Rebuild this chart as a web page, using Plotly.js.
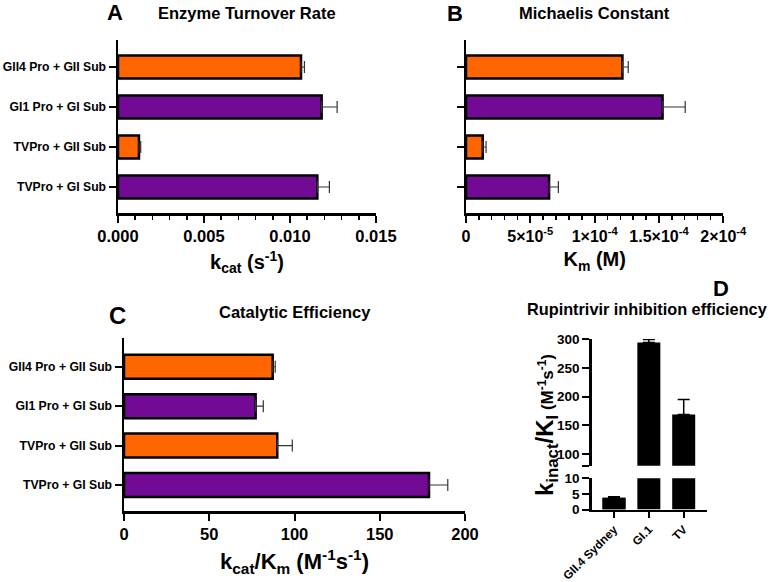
<!DOCTYPE html>
<html>
<head>
<meta charset="utf-8">
<script src="https://cdn.plot.ly/plotly-3.0.1.min.js"></script>
<style>html,body{margin:0;padding:0;background:#fff;}#chart{width:770px;height:582px;}</style>
</head>
<body>
<div id="chart"></div>
<script>
// ---- data ----
const categories = ['GII4 Pro + GII Sub', 'GI1 Pro + GI Sub', 'TVPro + GII Sub', 'TVPro + GI Sub'];
const substrate = ['GII', 'GI', 'GII', 'GI'];
const kcat = [0.01064, 0.01184, 0.00122, 0.01159];
const kcatErr = [0.0002, 0.0009, 0.0001, 0.0007];
const km = [1.216e-4, 1.528e-4, 1.30e-5, 6.46e-5];
const kmErr = [0.045e-4, 0.176e-4, 0.26e-5, 0.72e-5];
const eff = [87.2, 77.2, 89.9, 178.9];
const effErr = [1.5, 4.5, 8.8, 11.0];
const dCats = ['GII.4 Sydney', 'GI.1', 'TV'];
const dVals = [3.8, 294, 169];
const dErr = [0.3, 5, 26];
const kcatTicks = [0, 0.005, 0.010, 0.015];
const kcatTickText = ['0.000', '0.005', '0.010', '0.015'];
const kmTicks = [0, 5e-5, 1e-4, 1.5e-4, 2e-4];
const kmTickText = ['0', '5×10<sup>-5</sup>', '1×10<sup>-4</sup>', '1.5×10<sup>-4</sup>', '2×10<sup>-4</sup>'];
const effTicks = [0, 50, 100, 150, 200];
const dUpperTicks = [80, 100, 150, 200, 250, 300];
const dUpperText = ['', '100', '150', '200', '250', '300'];
const dLowerTicks = [0, 5, 10];

// ---- style ----
const ORANGE = '#FF6600', PURPLE = '#730A95';
const colorOf = s => s === 'GII' ? ORANGE : PURPLE;
const FONT = 'Liberation Sans, Arial, sans-serif';
const W = 770, H = 582;
const px = x => x / W, py = y => 1 - y / H;
const errStyle = {color: '#333', thickness: 1.2, width: 6};

function hbar(xs, errs, xa, ya) {
  return {
    type: 'bar', orientation: 'h', x: xs, y: categories, xaxis: xa, yaxis: ya,
    width: 0.58,
    marker: {color: substrate.map(colorOf), line: {color: '#000', width: 2.5}},
    error_x: Object.assign({type: 'data', array: errs, arrayminus: errs.map(() => 0), symmetric: false, visible: true}, errStyle),
    hoverinfo: 'x+y', showlegend: false
  };
}

const lowerTop = dLowerTicks[dLowerTicks.length - 1];
const upperIdx = dVals.map((v, i) => i).filter(i => dVals[i] > lowerTop);
const lowerOnlyIdx = dVals.map((v, i) => i).filter(i => dVals[i] <= lowerTop);

const traces = [
  hbar(kcat, kcatErr, 'x', 'y'),
  hbar(km, kmErr, 'x2', 'y2'),
  Object.assign(hbar(eff, effErr, 'x3', 'y3'), {width: 0.61}),
  {type: 'bar', x: dCats, y: dVals, xaxis: 'x4', yaxis: 'y4', width: 0.66,
   marker: {color: '#000'}, showlegend: false},
  {type: 'bar', x: lowerOnlyIdx.map(i => dCats[i]), y: lowerOnlyIdx.map(i => dVals[i]), xaxis: 'x4', yaxis: 'y4', width: 0.66,
   marker: {color: '#000'}, showlegend: false,
   error_y: {type: 'data', array: lowerOnlyIdx.map(i => dErr[i]), arrayminus: lowerOnlyIdx.map(() => 0), symmetric: false, color: '#000', thickness: 1.5, width: 6}},
  {type: 'bar', x: upperIdx.map(i => dCats[i]), y: upperIdx.map(i => dVals[i]), xaxis: 'x5', yaxis: 'y5', width: 0.66,
   marker: {color: '#000'}, showlegend: false,
   error_y: {type: 'data', array: upperIdx.map(i => dErr[i]), arrayminus: upperIdx.map(() => 0), symmetric: false, color: '#000', thickness: 1.5, width: 6}}
];

const axBase = {showline: true, linecolor: '#000', linewidth: 2.5, ticks: 'outside', ticklen: 7, tickwidth: 2,
  tickcolor: '#000', showgrid: false, zeroline: false, fixedrange: true};
const tickF = (s) => ({family: FONT, size: s, color: '#000', weight: 'bold'});
const titleF = {family: FONT, size: 20, color: '#000', weight: 'bold'};

const layout = {
  width: W, height: H, margin: {l: 0, r: 0, t: 0, b: 0}, paper_bgcolor: '#fff', plot_bgcolor: 'rgba(0,0,0,0)',
  barmode: 'overlay', showlegend: false, font: {family: FONT, color: '#000'},
  xaxis: Object.assign({}, axBase, {domain: [px(118), px(376)], anchor: 'y', range: [0, 0.015],
    tickvals: kcatTicks, ticktext: kcatTickText, tickfont: tickF(16.5),
    minor: {dtick: 0.001, ticks: 'outside', ticklen: 4, tickwidth: 1.5, tickcolor: '#000', showgrid: false},
    title: {text: 'k<sub>cat</sub> (s<sup>-1</sup>)', font: titleF, standoff: 11}}),
  yaxis: Object.assign({}, axBase, {domain: [py(213), py(40)], anchor: 'x', type: 'category',
    categoryorder: 'array', categoryarray: categories, range: [3.65, -0.675], tickfont: tickF(12.2)}),
  xaxis2: Object.assign({}, axBase, {domain: [px(466), px(723.3)], anchor: 'y2', range: [0, 2e-4],
    tickvals: kmTicks, ticktext: kmTickText, tickfont: tickF(16),
    minor: {dtick: 1e-5, ticks: 'outside', ticklen: 4, tickwidth: 1.5, tickcolor: '#000', showgrid: false},
    title: {text: 'K<sub>m</sub> (M)', font: titleF, standoff: 9}}),
  yaxis2: Object.assign({}, axBase, {domain: [py(213), py(40)], anchor: 'x2', type: 'category',
    categoryorder: 'array', categoryarray: categories, range: [3.65, -0.675], showticklabels: false}),
  xaxis3: Object.assign({}, axBase, {domain: [px(124), px(465)], anchor: 'y3', range: [0, 200],
    tickvals: effTicks, tickfont: tickF(16.5),
    title: {text: 'k<sub>cat</sub>/K<sub>m</sub> (M<sup>-1</sup>s<sup>-1</sup>)', font: {family: FONT, size: 22, color: '#000', weight: 'bold'}, standoff: 12}}),
  yaxis3: Object.assign({}, axBase, {domain: [py(511), py(338)], anchor: 'x3', type: 'category',
    categoryorder: 'array', categoryarray: categories, range: [3.66, -0.73], tickfont: tickF(12.2)}),
  xaxis4: Object.assign({}, axBase, {domain: [px(591.7), px(706.7)], anchor: 'y4', type: 'category',
    categoryorder: 'array', categoryarray: dCats, range: [-0.64, 2.66], tickangle: -45, ticklen: 6, tickfont: tickF(11.8)}),
  yaxis4: Object.assign({}, axBase, {domain: [py(509.5), py(478.3)], anchor: 'x4', range: [0, 10],
    tickvals: dLowerTicks, tickfont: tickF(13.5)}),
  xaxis5: {domain: [px(591.7), px(706.7)], anchor: 'y5', type: 'category', categoryorder: 'array', categoryarray: dCats,
    range: [-0.64, 2.66], showline: false, showticklabels: false, ticks: '', showgrid: false, zeroline: false, fixedrange: true},
  yaxis5: Object.assign({}, axBase, {domain: [py(465.7), py(339)], anchor: 'x5', range: [80, 300],
    tickvals: dUpperTicks, ticktext: dUpperText, tickfont: tickF(13.5)}),
  annotations: [
    {text: '<b>A</b>', x: px(115), y: py(12), font: {family: FONT, size: 22}},
    {text: '<b>Enzyme Turnover Rate</b>', x: px(247), y: py(13), font: {family: FONT, size: 16.5}},
    {text: '<b>B</b>', x: px(455), y: py(13), font: {family: FONT, size: 22}},
    {text: '<b>Michaelis Constant</b>', x: px(594.5), y: py(13), font: {family: FONT, size: 16.5}},
    {text: '<b>C</b>', x: px(117), y: py(315), font: {family: FONT, size: 24}},
    {text: '<b>Catalytic Efficiency</b>', x: px(295), y: py(312), font: {family: FONT, size: 16.5}},
    {text: '<b>D</b>', x: px(721), y: py(288), font: {family: FONT, size: 22}},
    {text: '<b>Rupintrivir inhibition efficiency</b>', x: px(647), y: py(309), font: {family: FONT, size: 16.3}},
    {text: '<b><span style="font-size:24px">k<sub>inact</sub>/K<sub>I</sub></span><span style="font-size:17px"> (M<sup>-1</sup>s<sup>-1</sup>)</span></b>',
     x: px(546), y: py(425), textangle: -90, font: {family: FONT, size: 17}}
  ].map(a => Object.assign({xref: 'paper', yref: 'paper', showarrow: false, xanchor: 'center', yanchor: 'middle'}, a))
};

Plotly.newPlot('chart', traces, layout, {displayModeBar: false, staticPlot: true});
</script>
</body>
</html>
